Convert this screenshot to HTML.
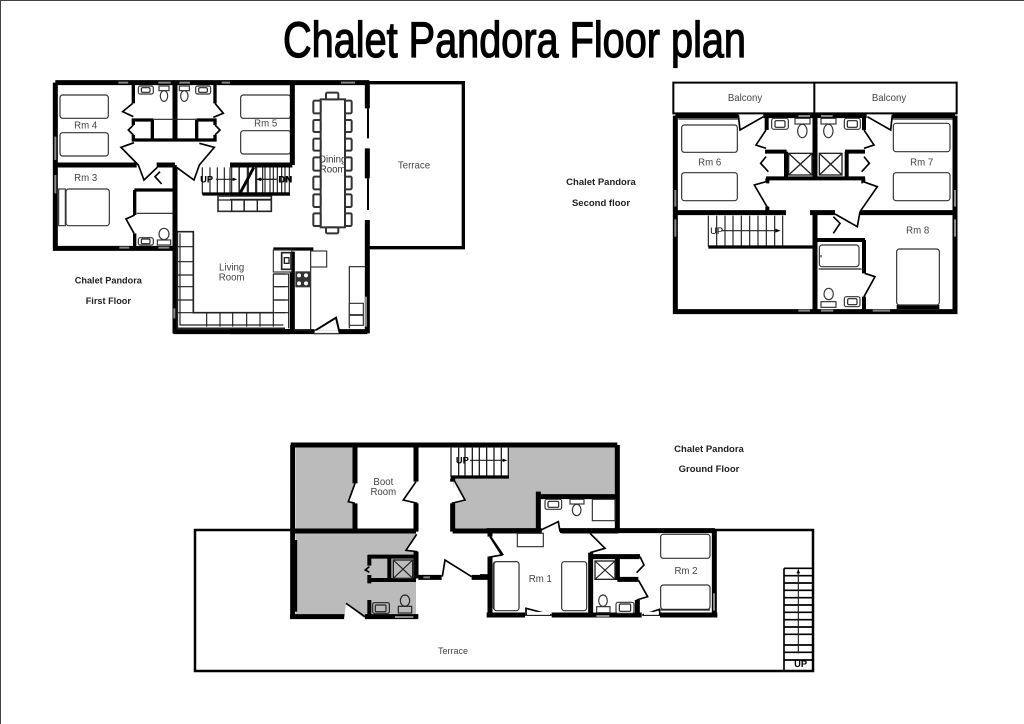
<!DOCTYPE html>
<html><head><meta charset="utf-8"><style>
html,body{margin:0;padding:0;background:#fff;width:1024px;height:724px;overflow:hidden}
svg{display:block}
text{font-family:"Liberation Sans",sans-serif;fill:#333}
.w{stroke:#000;stroke-width:15;fill:none}
.m{stroke:#000;stroke-width:10;fill:none}
.t{stroke:#222;stroke-width:3.5;fill:none}
.f{stroke:#333;stroke-width:3.5;fill:#fff}
.d{stroke:#000;stroke-width:5;fill:#fff;stroke-linejoin:miter}
.g{stroke:#888;stroke-width:6;fill:none}
.l{font-size:29px;text-anchor:middle;fill:#444}
.b{font-size:27.5px;font-weight:bold;text-anchor:middle;fill:#222}
.u{font-size:28px;font-weight:bold;text-anchor:middle;fill:#000}
</style></head><body>
<svg width="1024" height="724" viewBox="0 0 1024 724" xmlns="http://www.w3.org/2000/svg">
<rect width="1024" height="724" fill="#fff"/>
<path d="M.5 724V.5H1024" stroke="#444" fill="none"/>
<text x="283" y="57" font-size="50" textLength="463" lengthAdjust="spacingAndGlyphs" style="fill:#000;stroke:#000;stroke-width:1.3">Chalet Pandora Floor plan</text>

<!-- FIRST FLOOR left -->
<g transform="translate(40 70) scale(.33333)">
<path class="w" d="M46 38H750M46 38V535H400M46 285H290M350 285H405M405 38V210M405 285V790M400 785H750"/>
<path class="g" d="M46 200V270M46 315V370M235 38H265M355 38H392M418 38H450M545 38H585M238 533H268M355 533H388M403 715V745"/>
<path class="m" d="M280 45V100M280 150H340M280 210H525M337 150V210M525 45V100M470 150H525M470 150V210M280 145V165M525 145V165M280 195V215M525 195V215"/>
<path class="t" d="M340 148H470"/>
<path class="d" d="M278 100L248 125L280 140"/><path class="d" d="M525 100L550 130L520 142"/>
<path class="d" d="M280 165L265 180L280 195"/><path class="d" d="M525 165L540 180L525 195"/>
<path class="d" d="M282 218L243 232L295 285L312 330L352 292"/>
<path class="d" d="M478 220L523 232L478 285L462 330L407 290"/>
<path class="d" d="M360 305L345 320L365 342"/>
<rect x="295" y="48" width="45" height="24" rx="6" class="f"/><rect x="304" y="53" width="26" height="14" rx="4" class="t"/>
<rect x="357" y="48" width="30" height="14" class="f"/><ellipse cx="372" cy="78" rx="11" ry="16" class="f"/>
<rect x="418" y="48" width="30" height="14" class="f"/><ellipse cx="433" cy="78" rx="11" ry="16" class="f"/>
<rect x="467" y="48" width="45" height="24" rx="6" class="f"/><rect x="476" y="53" width="26" height="14" rx="4" class="t"/>
<rect x="60" y="75" width="145" height="70" rx="8" class="f"/><rect x="60" y="188" width="145" height="70" rx="8" class="f"/>
<rect x="602" y="75" width="150" height="70" rx="8" class="f"/><rect x="602" y="182" width="150" height="70" rx="8" class="f"/>
<rect x="56" y="357" width="20" height="110" class="f"/><rect x="78" y="357" width="130" height="110" rx="8" class="f"/>
<path class="m" d="M283 360H405"/><path class="m" d="M284 360V435M284 490V535"/>
<path class="t" d="M290 430H400"/>
<path class="d" d="M284 435L258 447L282 490"/>
<rect x="295" y="503" width="45" height="22" rx="6" class="f"/><rect x="304" y="507" width="26" height="14" rx="4" class="t"/>
<rect x="352" y="510" width="40" height="15" class="f"/><ellipse cx="372" cy="492" rx="15" ry="17" class="f"/>
<path class="t" d="M487 292V372M510 292V372M532 292V372M553 292V372M575 292V372M598 292V372M622 292V372M647 292V372M668 292V372M690 292V372M712 292V372M735 292V372"/>
<path class="m" d="M487 372H750"/><path d="M640 293L600 368" stroke="#000" stroke-width="7"/>
<path class="t" d="M528 328H585M650 328H710"/><path d="M592 328L578 323V333ZM648 328L662 323V333Z" fill="#000"/>
<text class="u" x="500" y="338" font-size="24">UP</text><text class="u" x="735" y="338" font-size="24">DN</text>
<rect x="534" y="378" width="160" height="46" class="f" style="stroke-width:5"/><path class="t" d="M534 390H694M575 388V424M612 388V424M652 388V424"/>
<path class="t" style="stroke-width:5" d="M412 485H460V728H700M412 485V775H735"/>
<path class="t" d="M420 490V765H730M412 530H460M412 575H460M412 615H460M412 650H460M412 690H460M412 728H460M500 728V770M540 728V770M578 728V770M620 728V770M660 728V770M700 612V770M700 650H735M700 690H735M700 728H735M700 612H735"/>
<text class="l" x="575" y="602">Living</text><text class="l" x="575" y="631">Room</text>
<text class="l" x="137" y="175">Rm 4</text><text class="l" x="677" y="170">Rm 5</text><text class="l" x="137" y="333">Rm 3</text>
<text class="b" x="205" y="640">Chalet Pandora</text><text class="b" x="205" y="702">First Floor</text>
</g>
<!-- FIRST FLOOR right -->
<g transform="translate(230 70) scale(.33333)">
<path class="w" d="M0 38H418M187 38V285M0 285H187M0 785H412M412 38V115M412 235V325M412 450V790M187 545V785"/>
<path class="m" d="M414 115V205M414 325V420" style="stroke-width:6"/>
<path d="M414 38H700V533H418" stroke="#000" stroke-width="10" fill="none"/>
<path class="g" d="M333 38H375M408 680V770"/>
<g class="f" style="stroke-width:6">
<rect x="272" y="88" width="73" height="384" fill="none"/>
<rect x="288" y="68" width="37" height="20" rx="4"/><rect x="288" y="472" width="37" height="18" rx="4"/>
<rect x="250" y="92" width="22" height="38" rx="4"/><rect x="250" y="150" width="22" height="36" rx="4"/><rect x="250" y="206" width="22" height="36" rx="4"/><rect x="250" y="262" width="22" height="40" rx="4"/><rect x="250" y="320" width="22" height="38" rx="4"/><rect x="250" y="373" width="22" height="38" rx="4"/><rect x="250" y="430" width="22" height="38" rx="4"/>
<rect x="345" y="92" width="20" height="38" rx="4"/><rect x="345" y="150" width="20" height="36" rx="4"/><rect x="345" y="206" width="20" height="36" rx="4"/><rect x="345" y="262" width="20" height="40" rx="4"/><rect x="345" y="320" width="20" height="38" rx="4"/><rect x="345" y="373" width="20" height="38" rx="4"/><rect x="345" y="430" width="20" height="38" rx="4"/>
</g>
<text class="l" x="308" y="278" style="fill:#333">Dining</text><text class="l" x="308" y="308" style="fill:#333">Room</text>
<text class="l" x="552" y="296">Terrace</text>
<path class="t" d="M0 292V372M27 292V372M55 292V372M80 292V372M105 292V372M130 292V372M155 292V372M178 292V372"/>
<path class="m" d="M0 372H178"/><path d="M72 293L32 368" stroke="#000" stroke-width="7"/>
<path class="t" d="M82 328H140"/><path d="M80 328L94 323V333Z" fill="#000"/>
<text class="u" x="167" y="338" font-size="24">DN</text>
<path class="t" d="M0 424H124V378M0 388H124M5 388V424M43 388V424M82 388V424"/>
<path class="m" d="M130 537H250"/>
<path class="t" d="M242 540V780M190 780H242"/>
<rect x="130" y="540" width="55" height="66" class="f"/><rect x="155" y="548" width="28" height="50" class="t" style="stroke-width:5"/><rect x="163" y="563" width="14" height="17" class="t" style="stroke-width:4"/>
<rect x="242" y="543" width="48" height="48" class="f"/>
<rect x="196" y="604" width="44" height="48" fill="#333"/><circle cx="207" cy="616" r="6" fill="#fff"/><circle cx="228" cy="616" r="6" fill="#fff"/><circle cx="207" cy="640" r="6" fill="#fff"/><circle cx="228" cy="640" r="6" fill="#fff"/>
<path class="t" d="M130 612H176V775M135 650H176M135 690H176M135 728H176"/>
<path class="t" d="M358 775V590H405"/>
<rect x="358" y="700" width="42" height="34" class="f"/><rect x="358" y="736" width="42" height="30" class="f"/>
<path d="M253 785H326" stroke="#fff" stroke-width="15"/><path class="d" d="M250 785L318 743L328 785Z" style="stroke-width:6"/>
<path stroke="#fff" stroke-width="6" d="M254 785H325"/>
<path class="t" d="M250 791H328"/>
</g>

<!-- SECOND FLOOR -->
<g transform="translate(660 70) scale(.33333)">
<path d="M40 38H890V130H40ZM463 38V130" stroke="#000" stroke-width="6" fill="none"/>
<path class="w" d="M46 137H235M310 137H620M697 137H885M46 137V725H885V137M465 137V328M46 428H378M450 428H525M600 428H885M465 428V725"/>
<path class="g" d="M46 360V410M46 448V500M885 360V410M885 448V500M415 722H450M483 722H520M638 722H690M415 138H450M483 138H518"/>
<path stroke="#000" stroke-width="12" d="M320 135V180M612 135V180M315 245H380M555 245H615M378 245V325M560 245V325M318 325H615M322 325V340M610 325V340M322 410V428M612 510V610M612 680V720M470 510H615M710 711H838"/>
<path class="d" d="M235 135L240 180L310 140"/><path class="d" d="M697 135L692 180L622 140"/>
<path class="d" d="M318 180L288 225L318 235"/><path class="d" d="M612 180L642 225L612 235"/>
<path class="d" d="M318 260L302 280L325 305"/><path class="d" d="M612 260L628 280L605 305"/>
<path class="d" d="M318 335L283 345L322 412"/><path class="d" d="M610 335L652 350L600 425"/>
<path class="d" d="M525 432L592 470L600 425"/><path class="d" d="M520 440L540 460L520 490"/>
<path class="d" d="M614 610L645 620L612 680"/>
<rect x="335" y="145" width="50" height="33" rx="7" class="f"/><rect x="345" y="152" width="30" height="20" rx="4" class="t"/>
<rect x="553" y="145" width="48" height="33" rx="7" class="f"/><rect x="562" y="152" width="30" height="20" rx="4" class="t"/>
<rect x="405" y="145" width="45" height="17" class="f"/><ellipse cx="427" cy="183" rx="14" ry="20" class="f"/>
<rect x="483" y="145" width="45" height="17" class="f"/><ellipse cx="505" cy="183" rx="14" ry="20" class="f"/>
<g class="t" style="stroke-width:4"><rect x="386" y="250" width="70" height="65"/><path d="M386 250L456 315M456 250L386 315"/><rect x="478" y="250" width="68" height="65"/><path d="M478 250L546 315M546 250L478 315"/></g>
<rect x="65" y="165" width="167" height="82" rx="8" class="f"/><rect x="65" y="308" width="167" height="84" rx="8" class="f"/>
<rect x="700" y="160" width="170" height="85" rx="8" class="f"/><rect x="700" y="308" width="170" height="84" rx="8" class="f"/>
<rect x="710" y="537" width="128" height="168" rx="8" class="f"/>
<path class="t" d="M55 147H235M697 147H878"/>
<path class="t" d="M145 437V530M170 437V530M195 437V530M219 437V530M244 437V530M269 437V530M294 437V530M319 437V530M344 437V530M368 437V530"/>
<path class="m" d="M145 531H465"/>
<path class="t" d="M185 482H350"/><path d="M362 482L346 476V488Z" fill="#000"/>
<text class="u" x="170" y="492" style="font-weight:normal">UP</text>
<rect x="478" y="525" width="119" height="65" rx="8" class="f"/><path class="t" d="M476 597H605M483 555V562"/>
<ellipse cx="506" cy="672" rx="14" ry="17" class="f"/><rect x="483" y="695" width="45" height="17" class="f"/>
<rect x="553" y="680" width="47" height="30" rx="6" class="f"/><rect x="563" y="686" width="28" height="18" rx="4" class="t"/>
<text class="l" x="255" y="93">Balcony</text><text class="l" x="687" y="93">Balcony</text>
<text class="l" x="149" y="286">Rm 6</text><text class="l" x="785" y="286">Rm 7</text><text class="l" x="773" y="490">Rm 8</text>
</g>
<text x="601" y="185" font-size="9.5" font-weight="bold" text-anchor="middle" style="fill:#222">Chalet Pandora</text>
<text x="601" y="206" font-size="9.5" font-weight="bold" text-anchor="middle" style="fill:#222">Second floor</text>
<text x="709" y="452" font-size="9.5" font-weight="bold" text-anchor="middle" style="fill:#222">Chalet Pandora</text>
<text x="709" y="472" font-size="9.5" font-weight="bold" text-anchor="middle" style="fill:#222">Ground Floor</text>

<!-- GROUND FLOOR -->
<g fill="#bbb">
<rect x="296" y="447" width="58" height="83"/>
<path d="M453 447H617V495H538V530H453Z"/>
<path d="M296 532H416V618H296Z"/>
</g>
<path d="M294 530H195V671H813V530H713" fill="none" stroke="#000" stroke-width="2.5"/>
<g transform="translate(280 435) scale(.33333)">
<path class="w" d="M32 30H1012M1012 30V290M38 30V550M225 30V145M225 205V290M408 30V140M408 205V290M518 130V140M518 205V290M38 288H408M518 288H785M845 288H1015M30 545H195M255 545H415M408 350V430M415 427H485M575 427H625M630 365V545M625 540H720"/>
<path class="d" d="M225 145L205 200L225 205"/>
<path class="d" d="M408 140L370 195L412 205"/>
<path class="d" d="M522 135L555 195L515 205"/>
<path class="d" d="M410 298L378 346L412 350"/>
<path class="d" d="M625 295L668 358L635 365"/>
<path class="d" d="M487 425L495 375L575 425"/>
<path d="M198 505L192 552H255Z" fill="#fff"/><path d="M198 505L255 545" stroke="#000" stroke-width="5"/>
<path stroke="#000" stroke-width="12" fill="none" d="M268 360V392M268 420V445M263 365H408M328 365V435M263 435H408M268 495V545"/>
<path class="d" d="M268 395L256 405L268 412" style="fill:#bbb"/>
<g class="t"><rect x="340" y="375" width="58" height="55" style="stroke-width:4"/><path d="M340 375L398 430M398 375L340 430"/></g>
<rect x="278" y="503" width="50" height="32" rx="5" class="t"/><rect x="286" y="510" width="32" height="20" rx="3" class="t"/>
<ellipse cx="375" cy="497" rx="14" ry="17" class="t"/><rect x="355" y="514" width="40" height="20" class="t"/>
<path class="g" d="M345 546H400M430 427H450"/>
<path d="M48 315V530" stroke="#000" stroke-width="7"/>
<rect x="640" y="380" width="77" height="145" rx="8" class="f"/>
<rect x="513" y="38" width="172" height="90" fill="#fff"/>
<path class="t" style="stroke-width:4" d="M513 38V128M536 38V128M555 38V128M577 38V128M598 38V128M620 38V128M642 38V128M664 38V128M685 38V128"/>
<path class="m" d="M513 126H687"/><path d="M570 76H670" class="t"/><path d="M682 76L668 71V81Z" fill="#000"/>
<text class="u" x="547" y="86">UP</text>
<text class="l" x="310" y="150">Boot</text><text class="l" x="310" y="180">Room</text>
</g>
<g transform="translate(480 480) scale(.33333)">
<path class="w" d="M175 35V150M175 50H412M20 152H185M240 152H705M20 405H135M215 405H485M540 405H712M703 150V410M30 232V405M25 290H0M332 218V405M332 230H480M412 235V300M412 298H475M472 360V405M30 155V170"/>
<path class="d" d="M183 150L235 125L240 155"/>
<path class="d" d="M30 170L65 225L25 232"/>
<path class="d" d="M330 160L375 205L330 218"/>
<path class="d" d="M480 230L492 255L470 278"/>
<path class="d" d="M475 300L503 350L470 360"/>
<path class="d" d="M138 385L215 405H138Z"/>
<path class="d" d="M487 405L538 388L540 405Z"/>
<path d="M141 400H210M492 400H536" stroke="#fff" stroke-width="9"/>
<rect x="195" y="58" width="50" height="30" rx="6" class="f"/><rect x="204" y="64" width="32" height="18" rx="4" class="t"/>
<rect x="270" y="58" width="42" height="14" class="f"/><ellipse cx="290" cy="90" rx="13" ry="17" class="f"/>
<rect x="337" y="58" width="68" height="64" class="f"/>
<rect x="112" y="160" width="78" height="40" class="f"/>
<rect x="42" y="245" width="75" height="147" rx="8" class="f"/><rect x="245" y="245" width="75" height="147" rx="8" class="f"/>
<rect x="542" y="163" width="148" height="72" rx="8" class="f"/><rect x="542" y="315" width="148" height="73" rx="8" class="f"/>
<path class="t" d="M540 390H690"/>
<g class="t"><rect x="345" y="243" width="60" height="55" style="stroke-width:4"/><path d="M345 243L405 298M405 243L345 298"/></g>
<ellipse cx="369" cy="362" rx="13" ry="17" class="f"/><rect x="350" y="380" width="40" height="18" class="f"/>
<rect x="408" y="367" width="54" height="33" rx="6" class="f"/><rect x="418" y="372" width="34" height="22" rx="4" class="t"/>
<path class="g" d="M349 408H388M702 340V392"/>
<text class="l" x="181" y="306">Rm 1</text><text class="l" x="618" y="282">Rm 2</text>
<path d="M912 265H996M912 265V573" stroke="#000" stroke-width="5" fill="none"/>
<path stroke="#000" stroke-width="5" fill="none" d="M912 287H996M912 309H996M912 331H996M912 353H996M912 375H996M912 397H996M912 419H996M912 441H996M912 463H996M912 495H996M912 517H996M912 540H996"/>
<path class="t" d="M955 520V272"/><path d="M955 265L950 280H960Z" fill="#000"/>
<text class="u" x="962" y="561" font-size="26">UP</text>
</g>
<text x="453" y="654" font-size="9" text-anchor="middle" style="fill:#444">Terrace</text>
</svg>
</body></html>
